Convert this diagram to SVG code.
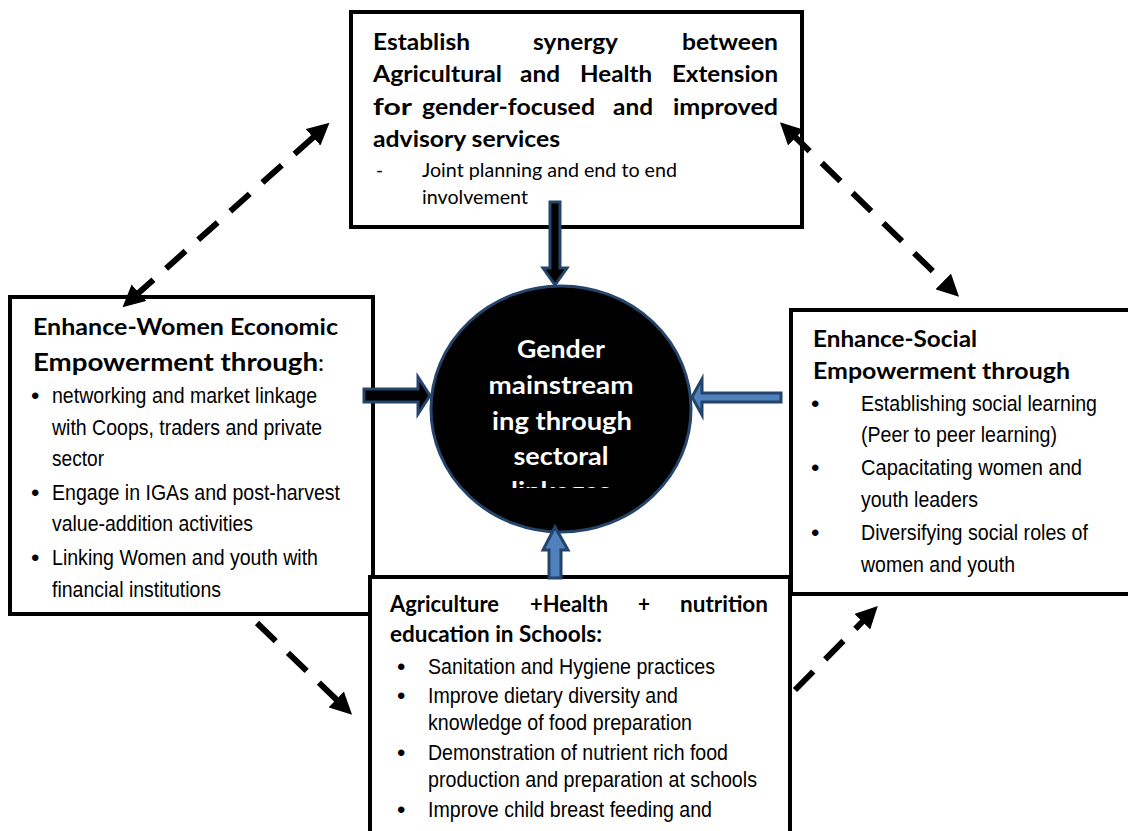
<svg xmlns="http://www.w3.org/2000/svg" width="1128" height="831" viewBox="0 0 1128 831">
<style>
.box{fill:#fff;stroke:#000;stroke-width:4}
.hb{font-family:Lato,"Open Sans",sans-serif;font-weight:bold;fill:#000}
.hr{font-family:Lato,"Open Sans",sans-serif;fill:#000}
.ar{font-family:"Liberation Sans",Arial,sans-serif;fill:#000;white-space:pre}
.bu{font-family:"Liberation Sans",Arial,sans-serif;fill:#000;font-size:24px}
.ct{font-family:Lato,"Open Sans",sans-serif;font-weight:bold;fill:#fff;font-size:24px;text-anchor:middle}
.dash{stroke:#000;stroke-width:6;stroke-dasharray:26 17;fill:none}
.blk{stroke:#25446b;stroke-width:3;stroke-linejoin:miter}
</style>
<defs>
<marker id="ah" viewBox="0 0 10 10" refX="3" refY="5" markerWidth="22" markerHeight="22" markerUnits="userSpaceOnUse" orient="auto-start-reverse">
<path d="M0,0 L10,5 L0,10 z" fill="#000"/>
</marker>
<clipPath id="cclip"><rect x="420" y="280" width="290" height="208"/></clipPath>
</defs>

<g id="node-top">
<rect class="box" x="351" y="12" width="451" height="215"/>
<g class="hb" font-size="23">
<text x="373" y="50" textLength="97" lengthAdjust="spacingAndGlyphs">Establish</text>
<text x="533" y="50" textLength="85" lengthAdjust="spacingAndGlyphs">synergy</text>
<text x="682" y="50" textLength="96" lengthAdjust="spacingAndGlyphs">between</text>
<text x="373" y="82" textLength="129" lengthAdjust="spacingAndGlyphs">Agricultural</text>
<text x="520" y="82" textLength="40" lengthAdjust="spacingAndGlyphs">and</text>
<text x="580" y="82" textLength="72" lengthAdjust="spacingAndGlyphs">Health</text>
<text x="672" y="82" textLength="106" lengthAdjust="spacingAndGlyphs">Extension</text>
<text x="373" y="115" textLength="39" lengthAdjust="spacingAndGlyphs">for</text>
<text x="422" y="115" textLength="173" lengthAdjust="spacingAndGlyphs">gender-focused</text>
<text x="613" y="115" textLength="40" lengthAdjust="spacingAndGlyphs">and</text>
<text x="673" y="115" textLength="105" lengthAdjust="spacingAndGlyphs">improved</text>
<text x="373" y="147" textLength="187" lengthAdjust="spacingAndGlyphs">advisory services</text>
</g>
<g class="hr" font-size="19">
<text x="376" y="177">-</text>
<text x="422" y="177" textLength="255" lengthAdjust="spacingAndGlyphs">Joint planning and end to end</text>
<text x="422" y="204" textLength="106" lengthAdjust="spacingAndGlyphs">involvement</text>
</g>
</g>

<g id="node-left">
<rect class="box" x="10" y="297" width="363" height="317"/>
<text class="hb" x="33" y="335" font-size="22" textLength="305" lengthAdjust="spacingAndGlyphs">Enhance-Women Economic</text>
<text class="hb" x="33" y="371" font-size="25" textLength="285" lengthAdjust="spacingAndGlyphs">Empowerment through</text>
<text class="hr" x="318" y="371" font-size="24">:</text>
<text class="bu" x="31" y="404">•</text>
<text class="bu" x="31" y="501">•</text>
<text class="bu" x="31" y="566">•</text>
<g class="ar" font-size="22">
<text x="52" y="403" textLength="265" lengthAdjust="spacingAndGlyphs">networking and market linkage</text>
<text x="52" y="435" textLength="270" lengthAdjust="spacingAndGlyphs">with Coops, traders and private</text>
<text x="52" y="466" textLength="52" lengthAdjust="spacingAndGlyphs">sector</text>
<text x="52" y="500" textLength="288" lengthAdjust="spacingAndGlyphs">Engage in IGAs and post-harvest</text>
<text x="52" y="531" textLength="201" lengthAdjust="spacingAndGlyphs">value-addition activities</text>
<text x="52" y="565" textLength="266" lengthAdjust="spacingAndGlyphs">Linking Women and youth with</text>
<text x="52" y="597" textLength="169" lengthAdjust="spacingAndGlyphs">financial institutions</text>
</g>
</g>

<g id="node-right">
<path class="box" d="M1130,310 H791 V594 H1130"/>
<text class="hb" x="813" y="347" font-size="23" textLength="164" lengthAdjust="spacingAndGlyphs">Enhance-Social</text>
<text class="hb" x="813" y="379" font-size="23" textLength="257" lengthAdjust="spacingAndGlyphs">Empowerment through</text>
<text class="bu" x="811" y="412">•</text>
<text class="bu" x="811" y="476">•</text>
<text class="bu" x="811" y="541">•</text>
<g class="ar" font-size="21.5">
<text x="861" y="411" textLength="236" lengthAdjust="spacingAndGlyphs">Establishing social learning</text>
<text x="861" y="442" textLength="196" lengthAdjust="spacingAndGlyphs">(Peer to peer learning)</text>
<text x="861" y="475" textLength="221" lengthAdjust="spacingAndGlyphs">Capacitating women  and</text>
<text x="861" y="507" textLength="117" lengthAdjust="spacingAndGlyphs">youth leaders</text>
<text x="861" y="540" textLength="227" lengthAdjust="spacingAndGlyphs">Diversifying social roles of</text>
<text x="861" y="572" textLength="154" lengthAdjust="spacingAndGlyphs">women and youth</text>
</g>
</g>

<g id="node-bottom">
<rect class="box" x="370" y="577" width="420" height="270"/>
<g class="hb" font-size="22">
<text x="390" y="612" textLength="109" lengthAdjust="spacingAndGlyphs">Agriculture</text>
<text x="530" y="612" textLength="78" lengthAdjust="spacingAndGlyphs">+Health</text>
<text x="638" y="612" textLength="12" lengthAdjust="spacingAndGlyphs">+</text>
<text x="680" y="612" textLength="88" lengthAdjust="spacingAndGlyphs">nutrition</text>
<text x="390" y="642" textLength="212" lengthAdjust="spacingAndGlyphs">education in Schools:</text>
</g>
<text class="bu" x="397" y="675">•</text>
<text class="bu" x="397" y="704">•</text>
<text class="bu" x="397" y="761">•</text>
<text class="bu" x="397" y="818">•</text>
<g class="ar" font-size="22.5">
<text x="428" y="674" textLength="287" lengthAdjust="spacingAndGlyphs">Sanitation and Hygiene practices</text>
<text x="428" y="703" textLength="250" lengthAdjust="spacingAndGlyphs">Improve dietary diversity and</text>
<text x="428" y="730" textLength="264" lengthAdjust="spacingAndGlyphs">knowledge of food preparation</text>
<text x="428" y="760" textLength="300" lengthAdjust="spacingAndGlyphs">Demonstration of nutrient rich food</text>
<text x="428" y="787" textLength="329" lengthAdjust="spacingAndGlyphs">production and preparation at schools</text>
<text x="428" y="817" textLength="284" lengthAdjust="spacingAndGlyphs">Improve child breast feeding and</text>
</g>
</g>

<g id="node-center">
<ellipse cx="561" cy="409" rx="130" ry="123" fill="#000" stroke="#25446b" stroke-width="3"/>
<g clip-path="url(#cclip)">
<text class="ct" x="561" y="358" textLength="88" lengthAdjust="spacingAndGlyphs">Gender</text>
<text class="ct" x="561" y="394" textLength="145" lengthAdjust="spacingAndGlyphs">mainstream</text>
<text class="ct" x="562" y="430" textLength="140" lengthAdjust="spacingAndGlyphs">ing through</text>
<text class="ct" x="561" y="465" textLength="95" lengthAdjust="spacingAndGlyphs">sectoral</text>
<text class="ct" x="561" y="500" textLength="100" lengthAdjust="spacingAndGlyphs">linkages</text>
</g>
</g>

<g id="connectors">
<polygon class="blk" fill="#000" points="550,202 560,202 560,268 567,268 555,285 543,268 550,268"/>
<polygon class="blk" fill="#000" points="364,389 418,389 418,377 430,395.5 418,414 418,402 364,402"/>
<polygon class="blk" fill="#4f81bd" points="781,393 702,393 702,379 692,397 702,415 702,402 781,402"/>
<polygon class="blk" fill="#4f81bd" points="549,578 549,550 543,550 555,527 568,550 561,550 561,578"/>
<line class="dash" x1="134" y1="297" x2="318" y2="133" marker-start="url(#ah)" marker-end="url(#ah)"/>
<line class="dash" x1="791" y1="133" x2="948" y2="286" marker-start="url(#ah)" marker-end="url(#ah)"/>
<line class="dash" x1="257" y1="623" x2="341" y2="704" marker-end="url(#ah)"/>
<line class="dash" x1="795" y1="690" x2="867" y2="617" marker-end="url(#ah)"/>
</g>
</svg>
